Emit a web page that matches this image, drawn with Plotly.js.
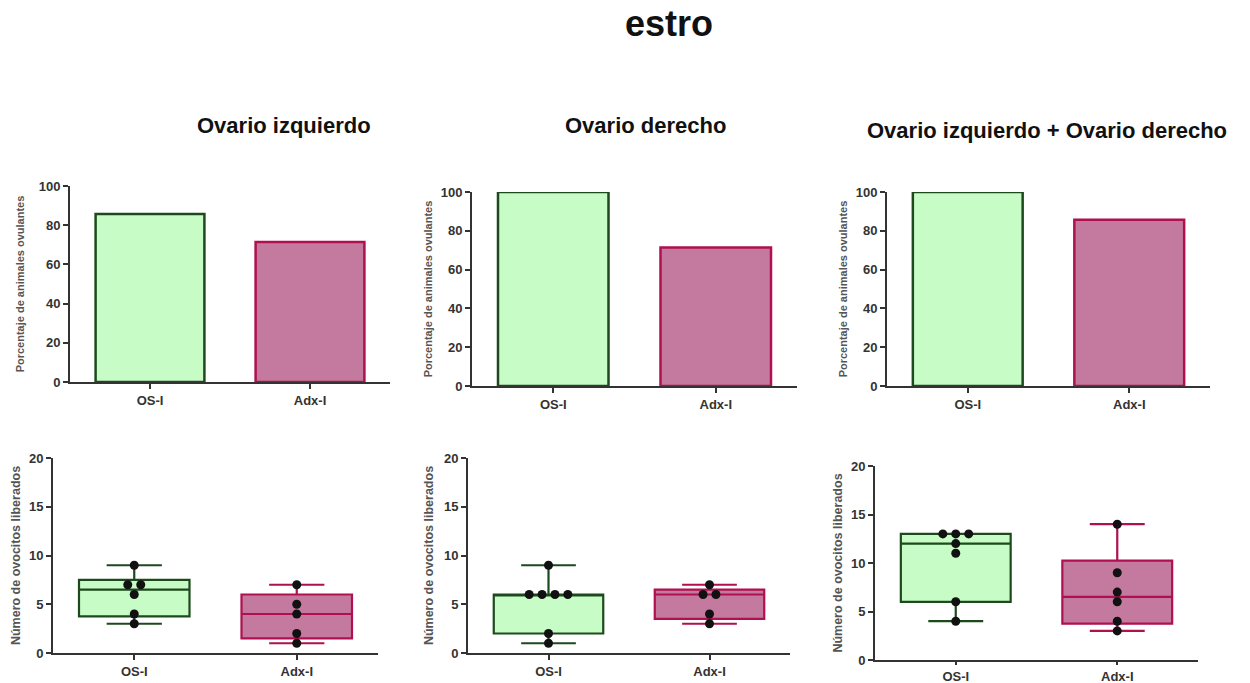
<!DOCTYPE html>
<html>
<head>
<meta charset="utf-8">
<script src="https://cdn.plot.ly/plotly-3.0.1.min.js"></script>
<style>html,body{margin:0;padding:0;background:#fff;}#chart{width:1250px;height:683px;}</style>
</head>
<body>
<div id="chart"></div>
<script>
// ---- data ----
const mainTitle = 'estro';
const categories = ['OS-I', 'Adx-I'];
const panelTitles = ['Ovario izquierdo', 'Ovario derecho', 'Ovario izquierdo + Ovario derecho'];
const pctTitle = 'Porcentaje de animales ovulantes';
const ovoTitle = 'Número de ovocitos liberados';

// percentage of ovulating animals [OS-I, Adx-I]
const pctIzquierdo = [85.7, 71.4];
const pctDerecho = [100, 71.4];
const pctAmbos = [100, 85.7];

// number of oocytes released per animal
const ovoIzqOS = [9, 7, 7, 6, 4, 3];
const ovoIzqAdx = [7, 5, 4, 2, 1];
const ovoDerOS = [9, 6, 6, 6, 6, 2, 1];
const ovoDerAdx = [7, 6, 6, 4, 3];
const ovoAmbOS = [13, 13, 13, 12, 11, 6, 4];
const ovoAmbAdx = [14, 9, 7, 6, 4, 3];

// ---- styles ----
const FONT = 'Liberation Sans, Arial, sans-serif';
const fills = ['#c8fcc6', '#c47a9e'];
const borders = ['#1d4a1d', '#b0104f'];

// Prism-style quartiles (position p*(n+1))
function quant(vals, p) {
  const s = vals.slice().sort((a, b) => a - b);
  const n = s.length;
  const pos = p * (n + 1);
  if (pos <= 1) return s[0];
  if (pos >= n) return s[n - 1];
  const lo = Math.floor(pos), f = pos - lo;
  return s[lo - 1] + f * (s[lo] - s[lo - 1]);
}
// spread equal values symmetrically around the group centre
function offsets(vals, step) {
  const counts = {}, seen = {};
  vals.forEach(v => counts[v] = (counts[v] || 0) + 1);
  return vals.map(v => {
    const k = counts[v];
    const i = seen[v] || 0; seen[v] = i + 1;
    return (i - (k - 1) / 2) * step;
  });
}

const W = 1250, H = 683;
const fx = px => px / W;
const fy = px => 1 - px / H;

// panel geometry (pixels) : [left, right, top, bottom]
const barBoxes = [[70, 390, 186, 382], [472, 797, 192, 386], [887, 1210, 192, 386]];
const boxBoxes = [[53, 378, 458, 653], [468, 790, 458, 653], [875, 1198, 466, 660]];
const barStandoff = [12, 6, 6];
const boxStandoff = [6, 8, 6];
const boxTickLen = [5, 5, 3];

const barData = [pctIzquierdo, pctDerecho, pctAmbos];
const boxData = [[ovoIzqOS, ovoIzqAdx], [ovoDerOS, ovoDerAdx], [ovoAmbOS, ovoAmbAdx]];

const traces = [];
const layout = {
  width: W, height: H,
  margin: {l: 0, r: 0, t: 0, b: 0},
  paper_bgcolor: '#fff', plot_bgcolor: 'rgba(0,0,0,0)',
  showlegend: false,
  font: {family: FONT, color: '#222'},
  title: {text: mainTitle, x: 669 / W, xanchor: 'center', y: 1 - 23 / H, yanchor: 'middle', yref: 'container',
          font: {family: FONT, size: 36, weight: 'bold', color: '#111'}},
  annotations: []
};

function xAxis(box, anchor, ticklen) {
  return {
    domain: [fx(box[0]), fx(box[1])], anchor: anchor,
    range: [-0.5, 1.5], tickvals: [0, 1], ticktext: categories,
    showline: true, linecolor: '#333', linewidth: 2,
    ticks: 'outside', ticklen: ticklen, tickwidth: 2, tickcolor: '#333',
    showgrid: false, zeroline: false, fixedrange: true,
    tickfont: {family: FONT, size: 13, color: '#333', weight: 'bold'}
  };
}
function yAxis(box, anchor, range, dtick, title, size, standoff) {
  return {
    domain: [fy(box[3]), fy(box[2])], anchor: anchor,
    range: range, dtick: dtick, tick0: 0,
    showline: true, linecolor: '#333', linewidth: 2,
    ticks: 'outside', ticklen: 5, tickwidth: 2, tickcolor: '#333',
    showgrid: false, zeroline: false, fixedrange: true,
    tickfont: {family: FONT, size: 13, color: '#333', weight: 'bold'},
    title: {text: title, standoff: standoff, font: {family: FONT, size: size, color: '#555', weight: 'bold'}}
  };
}

// bar panels (axes 1..3)
for (let p = 0; p < 3; p++) {
  const n = p + 1;
  const xs = 'x' + n, ys = 'y' + n;
  traces.push({
    type: 'bar', x: [0, 1], y: barData[p], width: 0.68,
    xaxis: xs, yaxis: ys,
    marker: {color: fills, line: {color: borders, width: 2.5}},
    hoverinfo: 'y'
  });
  layout['xaxis' + n] = xAxis(barBoxes[p], ys, 5);
  layout['yaxis' + n] = yAxis(barBoxes[p], xs, [0, 100], 20, pctTitle, 11, barStandoff[p]);
}

// box panels (axes 4..6)
for (let p = 0; p < 3; p++) {
  const n = p + 4;
  const xs = 'x' + n, ys = 'y' + n;
  boxData[p].forEach((vals, g) => {
    traces.push({
      type: 'box', x: [g], xaxis: xs, yaxis: ys,
      q1: [quant(vals, 0.25)], median: [quant(vals, 0.5)], q3: [quant(vals, 0.75)],
      lowerfence: [Math.min(...vals)], upperfence: [Math.max(...vals)],
      width: 0.68, whiskerwidth: 0.5,
      fillcolor: fills[g], line: {color: borders[g], width: 2.2},
      boxpoints: false, hoverinfo: 'skip'
    });
    const off = offsets(vals, 0.08);
    traces.push({
      type: 'scatter', mode: 'markers', xaxis: xs, yaxis: ys,
      x: vals.map((v, i) => g + off[i]), y: vals,
      marker: {size: 9, color: '#111'}, hoverinfo: 'y'
    });
  });
  layout['xaxis' + n] = xAxis(boxBoxes[p], ys, boxTickLen[p]);
  layout['yaxis' + n] = yAxis(boxBoxes[p], xs, [0, 20], 5, ovoTitle, 12.5, boxStandoff[p]);
}

// panel titles
const titlePos = [[284, 126], [645, 126], [1047, 130]];
panelTitles.forEach((t, i) => {
  layout.annotations.push({
    text: t, xref: 'paper', yref: 'paper', x: fx(titlePos[i][0]), y: fy(titlePos[i][1]),
    xanchor: 'center', yanchor: 'middle', showarrow: false,
    font: {family: FONT, size: 22, weight: 'bold', color: '#111'}
  });
});

Plotly.newPlot('chart', traces, layout, {displayModeBar: false, staticPlot: true});
</script>
</body>
</html>
